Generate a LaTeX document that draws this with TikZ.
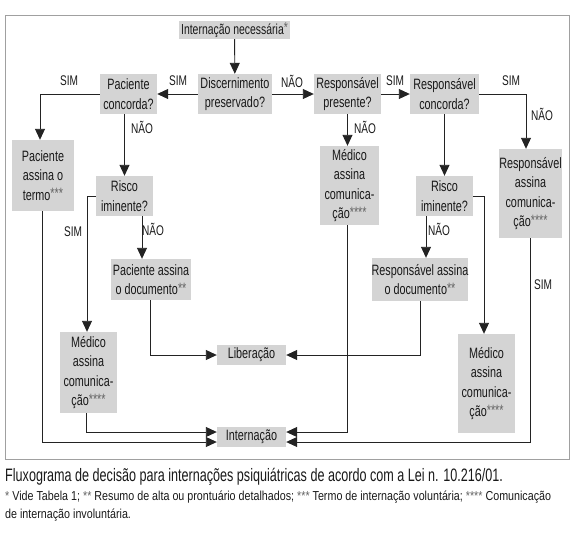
\documentclass[tikz,border=0pt]{standalone}
\usepackage{fontspec}
\setmainfont[FakeStretch=0.72]{Liberation Sans}
\newfontfamily\capfontA[FakeStretch=0.7]{Liberation Sans}
\newfontfamily\capfontB[FakeStretch=0.825]{Liberation Sans}
\usetikzlibrary{arrows.meta}
\definecolor{boxgray}{RGB}{212,212,212}
\definecolor{framegray}{RGB}{160,160,160}
\definecolor{linecol}{RGB}{35,35,35}
\definecolor{stargray}{RGB}{100,100,100}
\newcommand{\st}[1]{\raisebox{0.1em}{\color{stargray}#1}}
\newcommand{\stc}[1]{{\color{stargray}#1}}
\tikzset{
  box/.style={fill=boxgray, inner sep=0pt, align=center, font=\fontsize{15}{19.5}\selectfont, text=black!90},
  arr/.style={draw=linecol, line width=0.9pt, -{Triangle[length=11pt,width=10pt]}},
  lbl/.style={font=\fontsize{14}{15}\selectfont, text=black!90, inner sep=0pt}
}
\begin{document}
\begin{tikzpicture}[x=1pt,y=-1pt]
\useasboundingbox (0,0) rectangle (586,536);
\draw[framegray, line width=0.8pt] (5,15) rectangle (569,459);
% nodes
\node[box, minimum width=111, minimum height=18, font=\fontsize{14.5}{17}\selectfont] (inn) at (234.5,30) {Internação necessária\st{*}};
\node[box, minimum width=74, minimum height=40] (disc) at (235,94) {Discernimento\\preservado?};
\node[box, minimum width=57, minimum height=40] (pconc) at (128.5,94) {Paciente\\concorda?};
\node[box, minimum width=62, minimum height=71] (ptermo) at (43,175.5) {Paciente\\assina o\\termo\st{***}};
\node[box, minimum width=57, minimum height=40] (risL) at (124.5,196) {Risco\\iminente?};
\node[box, minimum width=67, minimum height=40] (rpres) at (347.5,94) {Responsável\\presente?};
\node[box, minimum width=69, minimum height=40] (rconc) at (444.5,94) {Responsável\\concorda?};
\node[box, minimum width=59, minimum height=79] (medM) at (349.5,185.5) {Médico\\assina\\comunica-\\ção\st{****}};
\node[box, minimum width=57, minimum height=40] (risR) at (444.5,196) {Risco\\iminente?};
\node[box, minimum width=63, minimum height=89] (rcom) at (530.5,193.5) {Responsável\\assina\\comunica-\\ção\st{****}};
\node[box, minimum width=80, minimum height=41] (pdoc) at (151,279.5) {Paciente assina\\o documento\st{**}};
\node[box, minimum width=57, minimum height=81] (medL) at (88.5,372.5) {Médico\\assina\\comunica-\\ção\st{****}};
\node[box, minimum width=69, minimum height=20] (lib) at (251.5,355) {Liberação};
\node[box, minimum width=69, minimum height=20] (intn) at (251.5,437) {Internação};
\node[box, minimum width=94, minimum height=43] (rdoc) at (420,279.5) {Responsável assina\\o documento\st{**}};
\node[box, minimum width=57, minimum height=99] (medR) at (486.5,383.5) {Médico\\assina\\comunica-\\ção\st{****}};
% connectors
\draw[arr] (inn) -- (disc);
\draw[arr] (disc) -- (pconc);
\draw[arr] (disc) -- (rpres);
\draw[arr] (pconc.west) -| ([xshift=-3pt]ptermo.north);
\draw[arr] (risL.north |- pconc.south) -- (risL.north);
\draw[arr] (risL.west) -| ([xshift=-1.5pt]medL.north);
\draw[arr] ([xshift=17.5pt]risL.south) -- ([xshift=17.5pt]risL.south |- pdoc.north);
\draw[arr] ([xshift=-1pt]pdoc.south) |- (lib.west);
\draw[arr] ([xshift=-1pt]ptermo.south) |- ([yshift=-5pt]intn.west);
\draw[arr] ([xshift=-2.5pt]medL.south) |- ([yshift=5pt]intn.west);
\draw[arr] (rpres) -- (rconc);
\draw[arr] (rpres.south) -- (rpres.south |- medM.north);
\draw[arr] (rpres.south |- medM.south) |- ([yshift=5pt]intn.east);
\draw[arr] (rconc.east) -| ([xshift=-4.5pt]rcom.north);
\draw[arr] (rconc) -- (risR);
\draw[arr] (risR.east) -| ([xshift=-2.5pt]medR.north);
\draw[arr] ([xshift=-18.5pt]risR.south) -- ([xshift=-18.5pt]risR.south |- rdoc.north);
\draw[arr] (rdoc.south) |- (lib.east);
\draw[arr] (rcom.south) |- ([yshift=-5pt]intn.east);
% labels
\node[lbl] (l1) at (178,81) {SIM};
\node[lbl] (l2) at (292,81) {NÃO};
\node[lbl] (l3) at (69,81) {SIM};
\node[lbl] (l4) at (142,127) {NÃO};
\node[lbl] (l5) at (73,232) {SIM};
\node[lbl] (l6) at (153,229) {NÃO};
\node[lbl] (l7) at (395,81) {SIM};
\node[lbl] (l8) at (365,127) {NÃO};
\node[lbl] (l9) at (511,81) {SIM};
\node[lbl] (l10) at (542,114) {NÃO};
\node[lbl] (l11) at (439,229) {NÃO};
\node[lbl] (l12) at (543,285) {SIM};
% caption
\node[anchor=base west, inner sep=0pt, font=\capfontA\fontsize{18}{20}\selectfont, text=black!90] (cap1) at (5,481) {Fluxograma de decisão para internações psiquiátricas de acordo com a Lei n. 10.216/01.};
\node[anchor=base west, inner sep=0pt, font=\capfontB\fontsize{13}{16}\selectfont, text=black!90] (cap2) at (5,500) {\stc{*} Vide Tabela 1; \stc{**} Resumo de alta ou prontuário detalhados; \stc{***} Termo de internação voluntária; \stc{****} Comunicação};
\node[anchor=base west, inner sep=0pt, font=\capfontB\fontsize{13}{16}\selectfont, text=black!90] (cap3) at (5,518) {de internação involuntária.};
\end{tikzpicture}
\end{document}
